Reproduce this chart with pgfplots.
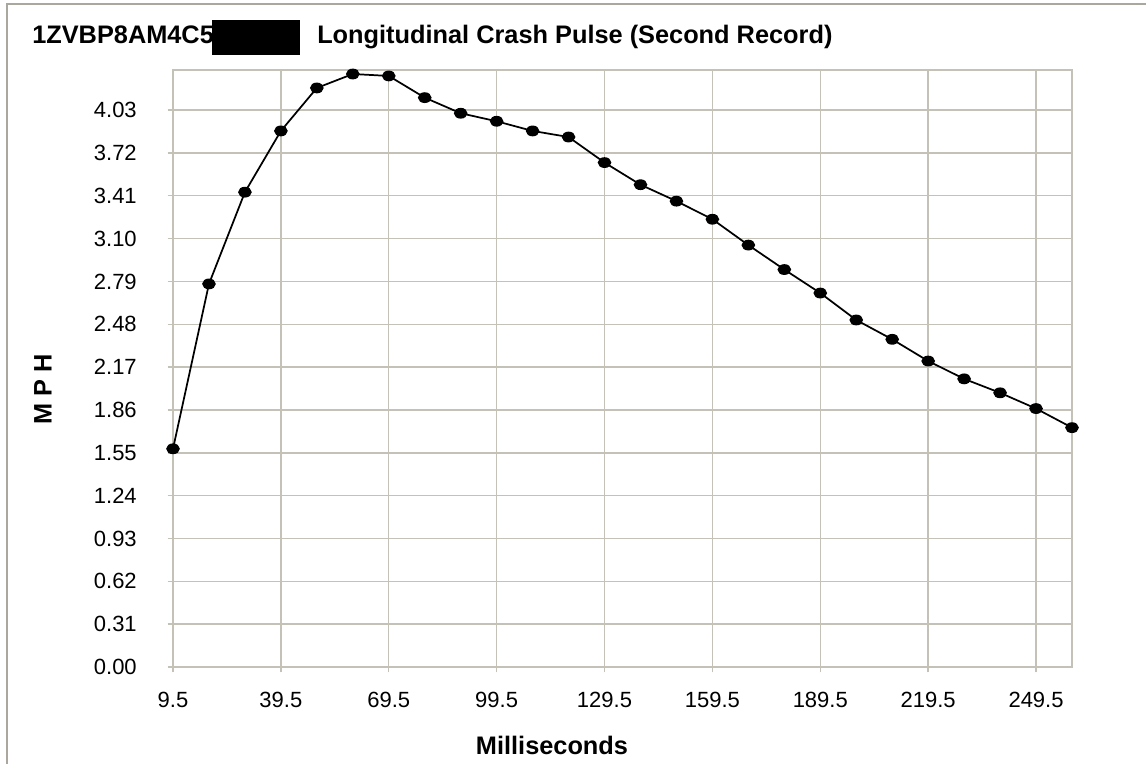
\documentclass[border=0pt]{standalone}
\usepackage{fontspec}
\setmainfont{Liberation Sans}
\usepackage{pgfplots}
\pgfplotsset{compat=1.18}
\definecolor{gridc}{RGB}{196,193,183}
\definecolor{framec}{RGB}{170,168,158}
\begin{document}
\begin{tikzpicture}[x=0.75pt,y=0.75pt]
\path[use as bounding box] (0,0) rectangle (1146,764);
\draw[framec, line width=1.5pt] (7,0) -- (7,760) -- (1146,760);
% title
\node[anchor=base west, inner sep=0pt, font=\fontsize{19}{21}\selectfont\bfseries] at (32,720) {1ZVBP8AM4C5};
\fill[black] (212,744) rectangle (300,709);
\node[anchor=base west, inner sep=0pt, font=\fontsize{19}{21}\selectfont\bfseries] at (317,720) {Longitudinal Crash Pulse (Second Record)};
\begin{axis}[
    at={(129.75pt,72.75pt)}, anchor=south west,
    scale only axis,
    width=674.25pt, height=447.75pt,
    xmin=9.5, xmax=259.5,
    ymin=0, ymax=4.32,
    xtick={9.5,39.5,69.5,99.5,129.5,159.5,189.5,219.5,249.5},
    xticklabels={9.5,39.5,69.5,99.5,129.5,159.5,189.5,219.5,249.5},
    ytick={0,0.31,0.62,0.93,1.24,1.55,1.86,2.17,2.48,2.79,3.10,3.41,3.72,4.03},
    yticklabels={0.00,0.31,0.62,0.93,1.24,1.55,1.86,2.17,2.48,2.79,3.10,3.41,3.72,4.03},
    grid=major,
    grid style={gridc, line width=1.1pt},
    axis line style={gridc, line width=1.1pt},
    tick style={gridc, line width=1.1pt},
    tick align=outside,
    major tick length=4pt,
    xtick pos=bottom, ytick pos=left,
    ticklabel style={font=\fontsize{16.5}{18}\selectfont},
    xticklabel style={inner sep=0pt, anchor=north, yshift=-15pt},
    yticklabel style={inner sep=0pt, anchor=east, xshift=-23pt},
    clip=false,
]
\addplot[black, line width=1.3pt, mark=*, mark size=3.4pt, mark options={xscale=1.3}] coordinates {
(9.5,1.579) (19.5,2.772) (29.5,3.436) (39.5,3.879) (49.5,4.190)
(59.5,4.291) (69.5,4.277) (79.5,4.120) (89.5,4.007) (99.5,3.949)
(109.5,3.879) (119.5,3.835) (129.5,3.650) (139.5,3.490) (149.5,3.371)
(159.5,3.240) (169.5,3.053) (179.5,2.876) (189.5,2.706) (199.5,2.511)
(209.5,2.371) (219.5,2.214) (229.5,2.085) (239.5,1.984) (249.5,1.870)
(259.5,1.732)
};
\end{axis}
\node[anchor=base, inner sep=0pt, font=\fontsize{19}{21}\selectfont\bfseries] at (552,9) {Milliseconds};
\node[rotate=90, inner sep=0pt, font=\fontsize{19}{21}\selectfont\bfseries] at (43,375) {M P H};
\end{tikzpicture}
\end{document}
